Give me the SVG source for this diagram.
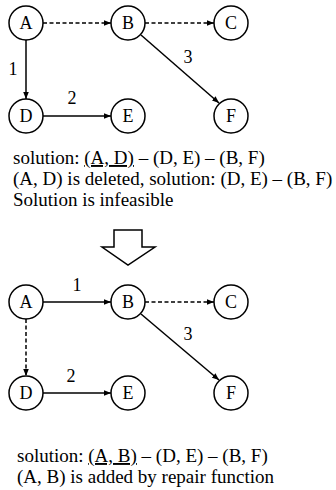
<svg xmlns="http://www.w3.org/2000/svg" width="336" height="490" viewBox="0 0 336 490">
  <style>
    .node circle { fill: #fff; stroke: #000; stroke-width: 1.5; }
    .solid { stroke: #000; stroke-width: 1.5; fill: none; marker-end: url(#ah); }
    .dash { stroke: #000; stroke-width: 1.5; fill: none; stroke-dasharray: 4 2.5; marker-end: url(#ah); }
  </style>
  <defs>
    <marker id="ah" viewBox="0 0 10 10" refX="10" refY="5" markerWidth="7" markerHeight="7" markerUnits="userSpaceOnUse" orient="auto">
      <path d="M0,1 L10,5 L0,9 z" fill="#000"/>
    </marker>
  </defs>
  <rect width="336" height="490" fill="#fff"/>

  <!-- upper graph -->
  <g id="connectors-top">
    <line class="dash" x1="43" y1="23" x2="111" y2="23"/>
    <line class="dash" x1="145" y1="23" x2="214" y2="23"/>
    <line class="solid" x1="26" y1="40" x2="26" y2="99"/>
    <line class="solid" x1="43" y1="116" x2="111" y2="116"/>
    <line class="solid" x1="141" y1="35" x2="219" y2="103"/>
    <g font-family="Liberation Serif, serif" font-size="18" text-anchor="middle">
      <text x="13" y="75">1</text>
      <text x="72" y="104">2</text>
      <text x="188" y="63">3</text>
    </g>
  </g>
  <g font-family="Liberation Serif, serif" font-size="18" text-anchor="middle">
    <g id="top-A" class="node"><circle cx="26" cy="23" r="17"/><text x="26" y="29">A</text></g>
    <g id="top-B" class="node"><circle cx="128" cy="23" r="17"/><text x="128" y="29">B</text></g>
    <g id="top-C" class="node"><circle cx="231" cy="23" r="17"/><text x="231" y="29">C</text></g>
    <g id="top-D" class="node"><circle cx="26" cy="116" r="17"/><text x="26" y="122">D</text></g>
    <g id="top-E" class="node"><circle cx="128" cy="116" r="17"/><text x="128" y="122">E</text></g>
    <g id="top-F" class="node"><circle cx="231" cy="116" r="17"/><text x="231" y="122">F</text></g>
  </g>

  <g id="notes-top" font-family="Liberation Serif, serif" font-size="19">
    <text x="13" y="164">solution: <tspan text-decoration="underline">(A, D)</tspan> – (D, E) – (B, F)</text>
    <text x="13" y="185">(A, D) is deleted, solution: (D, E) – (B, F)</text>
    <text x="13" y="206">Solution is infeasible</text>
  </g>

  <!-- hollow down arrow -->
  <g id="transition">
    <path d="M114,230 H142 V247 H155 L128,265 L102,247 H114 Z" fill="#fff" stroke="#000" stroke-width="1.5"/>
  </g>

  <!-- lower graph -->
  <g id="connectors-bottom">
    <line class="solid" x1="43" y1="302" x2="111" y2="302"/>
    <line class="dash" x1="145" y1="302" x2="214" y2="302"/>
    <line class="dash" x1="26" y1="319" x2="26" y2="376"/>
    <line class="solid" x1="43" y1="393" x2="111" y2="393"/>
    <line class="solid" x1="141" y1="314" x2="219" y2="380"/>
    <g font-family="Liberation Serif, serif" font-size="18" text-anchor="middle">
      <text x="77" y="291">1</text>
      <text x="71" y="382">2</text>
      <text x="188" y="340">3</text>
    </g>
  </g>
  <g font-family="Liberation Serif, serif" font-size="18" text-anchor="middle">
    <g id="bot-A" class="node"><circle cx="26" cy="302" r="17"/><text x="26" y="308">A</text></g>
    <g id="bot-B" class="node"><circle cx="128" cy="302" r="17"/><text x="128" y="308">B</text></g>
    <g id="bot-C" class="node"><circle cx="231" cy="302" r="17"/><text x="231" y="308">C</text></g>
    <g id="bot-D" class="node"><circle cx="26" cy="393" r="17"/><text x="26" y="399">D</text></g>
    <g id="bot-E" class="node"><circle cx="128" cy="393" r="17"/><text x="128" y="399">E</text></g>
    <g id="bot-F" class="node"><circle cx="231" cy="393" r="17"/><text x="231" y="399">F</text></g>
  </g>

  <g id="notes-bottom" font-family="Liberation Serif, serif" font-size="19">
    <text x="17" y="462">solution: <tspan text-decoration="underline">(A, B)</tspan> – (D, E) – (B, F)</text>
    <text x="17" y="483">(A, B) is added by repair function</text>
  </g>
</svg>
